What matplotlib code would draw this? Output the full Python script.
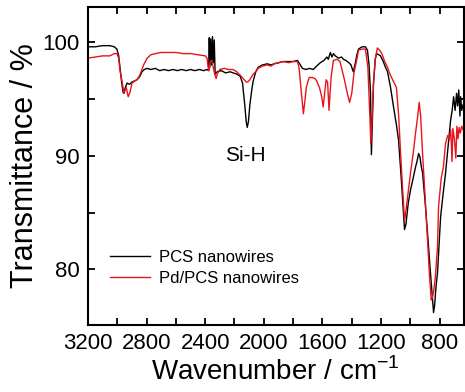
import matplotlib
matplotlib.use("Agg")
import matplotlib.pyplot as plt
from matplotlib.ticker import MultipleLocator

plt.rcParams['font.family'] = ['Liberation Sans', 'DejaVu Sans']

# PCS nanowires (black)
pcs_wn = [3200, 3150, 3100, 3050, 3020, 3002, 2990, 2981, 2970, 2960, 2954, 2945, 2933, 2915, 2899,
          2880, 2865, 2845, 2831, 2815, 2796, 2770, 2740, 2710, 2680, 2650, 2620, 2590, 2560, 2530,
          2500, 2470, 2440, 2410, 2387, 2376, 2372, 2368, 2362, 2356, 2350, 2344, 2338, 2332, 2318,
          2290, 2260, 2230, 2209, 2185, 2161, 2145, 2130, 2120, 2113, 2105, 2095, 2080, 2072, 2055,
          2038, 2010, 1977, 1950, 1930, 1900, 1867, 1830, 1800, 1771, 1755, 1737, 1710, 1690, 1662,
          1640, 1614, 1590, 1570, 1560, 1546, 1535, 1525, 1512, 1490, 1470, 1457, 1440, 1420, 1405,
          1395, 1389, 1380, 1375, 1365, 1354, 1330, 1307, 1293, 1282, 1272, 1266, 1258, 1252, 1240,
          1231, 1215, 1204, 1185, 1170, 1156, 1135, 1115, 1095, 1081, 1065, 1050, 1040, 1030, 1015,
          999, 985, 965, 955, 944, 935, 925, 917, 900, 883, 865, 850, 842, 835, 825,
          815, 805, 794, 778, 760, 745, 726, 715, 705, 695, 685, 678, 670, 662, 657,
          650, 640]
pcs_t = [99.6, 99.6, 99.7, 99.7, 99.6, 99.4, 98.8, 97.8, 96.5, 95.6, 95.5, 96.0, 96.4, 96.3, 96.5,
         96.6, 96.7, 97.0, 97.4, 97.6, 97.7, 97.6, 97.7, 97.5, 97.6, 97.5, 97.6, 97.5, 97.6, 97.5,
         97.6, 97.5, 97.6, 97.5, 97.6, 97.5, 100.4, 97.8, 100.3, 98.0, 100.5, 98.2, 100.2, 97.2, 97.4,
         97.5, 97.3, 97.4, 97.3, 97.2, 97.0, 96.4, 94.5, 93.0, 92.5, 93.0, 94.5, 96.0, 96.6, 97.4,
         97.8, 98.0, 98.1, 98.0, 98.1, 98.2, 98.3, 98.3, 98.3, 98.4, 98.1, 97.7, 97.6, 97.7, 97.6,
         97.9, 98.2, 98.4, 98.7, 98.5, 99.1, 98.7, 99.0, 98.8, 98.6, 98.7, 98.5, 98.4, 98.2, 98.0,
         97.6, 97.4, 97.9, 98.2, 98.9, 99.4, 99.6, 99.6, 99.3, 98.0, 95.5, 90.1, 93.5, 96.3, 98.5,
         99.0, 98.9, 98.8, 98.3, 97.8, 97.4, 96.0, 94.3, 92.7, 91.4, 88.5, 85.5, 83.5, 84.0, 85.8,
         87.0, 87.8, 89.0, 89.5, 90.2, 89.9, 89.0, 88.5, 86.0, 83.2, 80.0, 77.5, 76.2, 76.8, 78.5,
         79.7, 82.0, 84.6, 86.5, 88.5, 90.5, 93.1, 94.0, 95.2, 94.0, 95.5, 94.4, 95.8, 93.5, 95.2,
         94.0, 94.5]

# Pd/PCS nanowires (red)
pd_wn = [3200, 3150, 3100, 3050, 3020, 3002, 2990, 2981, 2970, 2960, 2954, 2945, 2938, 2925, 2915,
         2899, 2880, 2865, 2850, 2840, 2820, 2796, 2770, 2740, 2700, 2650, 2600, 2550, 2500, 2450,
         2400, 2387, 2380, 2375, 2365, 2355, 2345, 2335, 2325, 2318, 2300, 2270, 2240, 2209, 2185,
         2161, 2140, 2120, 2110, 2095, 2072, 2055, 2038, 2010, 1977, 1950, 1930, 1900, 1867, 1830,
         1800, 1771, 1760, 1750, 1740, 1730, 1720, 1710, 1700, 1690, 1670, 1650, 1640, 1620, 1605,
         1595, 1585, 1575, 1565, 1555, 1548, 1540, 1525, 1500, 1480, 1465, 1450, 1430, 1415, 1400,
         1385, 1365, 1354, 1330, 1307, 1290, 1278, 1270, 1262, 1252, 1240, 1225, 1210, 1195, 1175,
         1156, 1140, 1125, 1110, 1095, 1080, 1068, 1055, 1040, 1030, 1015, 999, 980, 965, 950,
         940, 930, 917, 900, 883, 870, 858, 850, 842, 830, 815, 808, 790, 775, 760,
         745, 735, 725, 716, 710, 700, 690, 683, 675, 668, 660, 650, 640]
pd_t = [98.6, 98.7, 98.8, 98.8, 99.0, 99.0, 98.6, 97.5, 96.8, 96.0, 95.5, 95.8, 96.0, 95.2, 95.5,
        96.4, 96.6, 96.7, 97.0, 97.3, 98.0, 98.6, 98.9, 99.0, 99.1, 99.1, 99.1, 99.0, 99.0, 98.9,
        98.8, 98.6, 97.8, 97.5, 98.3, 98.4, 97.8, 97.2, 96.8, 97.2, 97.6, 97.7, 97.6, 97.6, 97.4,
        97.1, 96.8, 96.5, 96.5, 96.7, 97.2, 97.4, 97.7, 97.9, 98.0, 97.9, 98.1, 98.2, 98.3, 98.2,
        98.3, 98.3, 97.8, 96.4, 95.0, 93.7, 94.8, 96.0, 96.5, 96.9, 96.9, 96.8, 96.6, 96.0, 95.2,
        94.3, 95.5, 96.7, 96.5, 94.0, 95.5, 97.0, 98.4, 98.5, 98.3, 97.5, 96.7, 95.5, 94.7, 95.5,
        97.3, 98.5, 99.3, 99.4, 99.4, 97.8, 94.0, 91.1, 93.0, 96.3, 98.5, 99.5, 99.3, 99.0, 98.3,
        97.8, 97.2, 96.8, 96.4, 96.0, 93.5, 90.5, 87.5, 84.3, 85.2, 86.8, 88.5, 90.3, 92.0, 93.5,
        94.7, 93.5, 90.2, 86.5, 82.6, 79.5, 77.3, 77.5, 78.0, 79.3, 82.0, 85.5, 88.0, 89.0, 91.1,
        91.8, 91.4, 92.3, 89.5, 92.4, 91.5, 89.8, 92.6, 91.5, 92.5, 92.0, 92.6, 92.3]

labels = ["PCS nanowires", "Pd/PCS nanowires"]

fig = plt.figure(figsize=(4.65, 3.92), dpi=100)
ax = fig.add_axes([0.189, 0.171, 0.808, 0.811])

ax.plot(pcs_wn, pcs_t, color='black', lw=1.0, label=labels[0])
ax.plot(pd_wn, pd_t, color='#e8141b', lw=1.0, label=labels[1])

ax.set_xlim(3200, 637)
ax.set_ylim(75.1, 103.1)
ax.xaxis.set_major_locator(MultipleLocator(400))
ax.xaxis.set_minor_locator(MultipleLocator(200))
ax.yaxis.set_major_locator(MultipleLocator(10))
ax.yaxis.set_minor_locator(MultipleLocator(5))
ax.tick_params(which='both', direction='in', top=True, right=True, width=1.3, labelsize=16, pad=6)
ax.tick_params(which='major', length=5)
ax.tick_params(which='minor', length=5)
for s in ax.spines.values():
    s.set_linewidth(1.5)

ax.set_xlabel("Wavenumber / cm$^{\\mathregular{-1}}$", fontsize=20, labelpad=2)
ax.set_ylabel("Transmittance / %", fontsize=22, labelpad=2)

ax.text(2127, 90.0, "Si-H", fontsize=15, ha='center', va='center')

ax.legend(loc='lower left', bbox_to_anchor=(0.02, 0.075), frameon=False, fontsize=12,
          handlelength=2.4, handletextpad=0.5, labelspacing=0.35)

fig.savefig("out.png", dpi=100)
